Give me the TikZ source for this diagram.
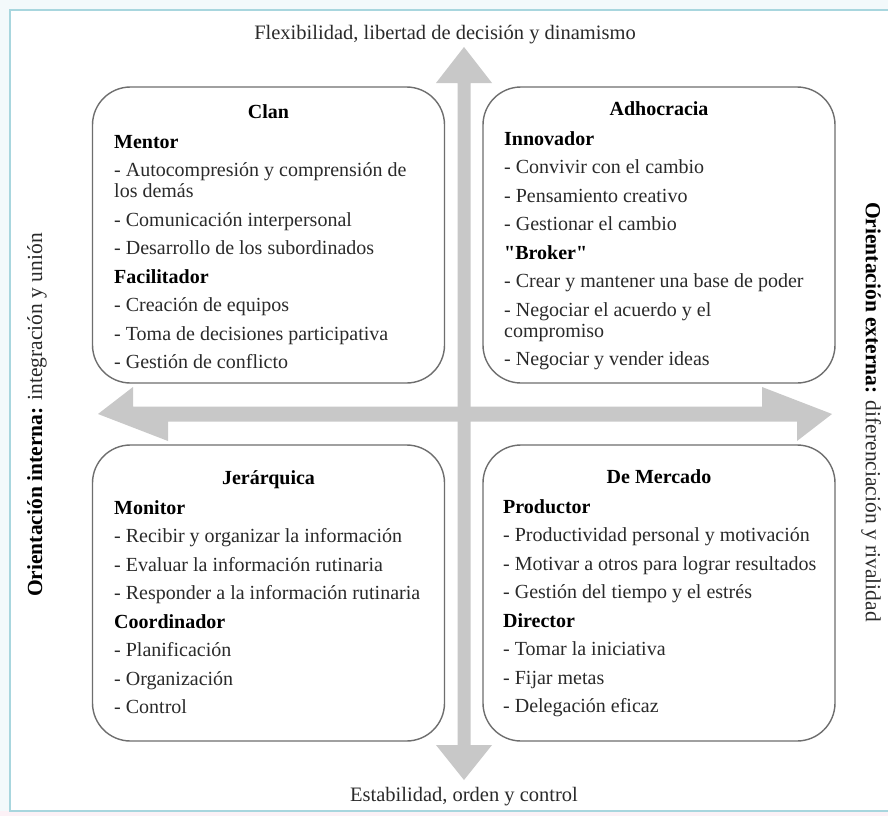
\documentclass[tikz,border=0pt]{standalone}
\usepackage{fontspec}
\setmainfont{Liberation Serif}[Ligatures=TeXOff]
\definecolor{arrowgray}{HTML}{C8C8C8}
\definecolor{boxline}{HTML}{6E6E6E}
\definecolor{txt}{HTML}{2A2A2A}
\definecolor{frameline}{HTML}{A8D6DE}
\definecolor{outerbg}{HTML}{F3F9FB}
\definecolor{pinkbg}{HTML}{FCF1F6}
\newcommand\qtext[1]{\vtop{\hsize=340pt\fontsize{20}{21}\selectfont\parindent=0pt\parskip=7.5pt\raggedright #1}}
\begin{document}
\begin{tikzpicture}[x=1pt,y=-1pt,
  qbox/.style={draw=boxline, line width=1.4pt, fill=white, rounded corners=38pt,
    minimum width=352pt, minimum height=296pt, inner sep=0pt},
  qhead/.style={anchor=base, font=\fontsize{20}{21}\selectfont\bfseries, text=black, inner sep=0pt},
  qbody/.style={anchor=base west, inner sep=0pt, text=txt},
  axislabel/.style={font=\fontsize{20.5}{22}\selectfont, text=txt, inner sep=0pt},
  sidelabel/.style={font=\fontsize{21.5}{23}\selectfont, text=txt, inner sep=0pt}]
\useasboundingbox (0,0) rectangle (888,816);
% background and frame
\fill[outerbg] (0,0) rectangle (888,816);
\fill[pinkbg] (0,811) rectangle (888,816);
\filldraw[fill=white, draw=frameline, line width=1.5pt] (10,10) rectangle (893,811);
% axes (big double arrows)
\coordinate (vt) at (464,47);
\coordinate (vb) at (464,780);
\coordinate (hl) at (98,414);
\coordinate (hr) at (832,414);
\fill[arrowgray] (vt) -- ++(28,36) -- ++(-21.5,0) -- ++(0,662) -- ++(21.5,0) -- (vb)
  -- ++(-28,-35) -- ++(21.5,0) -- ++(0,-662) -- ++(-21.5,0) -- cycle;
\fill[arrowgray] (hl) -- ++(35,-27) -- ++(0,19.5) -- ++(629,0) -- ++(0,-19.5) -- (hr)
  -- ++(-35,27) -- ++(0,-19.5) -- ++(-629,0) -- ++(0,19.5) -- cycle;
% boxes
\node[qbox] (clan) at (268.5,235) {};
\node[qbox] (adho) at (659,235) {};
\node[qbox] (jera) at (268.5,593) {};
\node[qbox] (merc) at (659,593) {};
% titles
\node[qhead] (clanH) at (268.5,118) {Clan};
\node[qhead] (adhoH) at (659,115) {Adhocracia};
\node[qhead] (jeraH) at (268.5,484) {Jerárquica};
\node[qhead] (mercH) at (659,483) {De Mercado};
% contents
\node[qbody] (clanT) at (114,148) {\qtext{\textbf{\color{black}Mentor}\par
- Autocompresión y comprensión de\newline los demás\par
- Comunicación interpersonal\par
- Desarrollo de los subordinados\par
\textbf{\color{black}Facilitador}\par
- Creación de equipos\par
- Toma de decisiones participativa\par
- Gestión de conflicto}};
\node[qbody] (adhoT) at (504,145) {\qtext{\textbf{\color{black}Innovador}\par
- Convivir con el cambio\par
- Pensamiento creativo\par
- Gestionar el cambio\par
\textbf{\color{black}"Broker"}\par
- Crear y mantener una base de poder\par
- Negociar el acuerdo y el\newline compromiso\par
- Negociar y vender ideas}};
\node[qbody] (jeraT) at (114,514) {\qtext{\textbf{\color{black}Monitor}\par
- Recibir y organizar la información\par
- Evaluar la información rutinaria\par
- Responder a la información rutinaria\par
\textbf{\color{black}Coordinador}\par
- Planificación\par
- Organización\par
- Control}};
\node[qbody] (mercT) at (503,513) {\qtext{\textbf{\color{black}Productor}\par
- Productividad personal y motivación\par
- Motivar a otros para lograr resultados\par
- Gestión del tiempo y el estrés\par
\textbf{\color{black}Director}\par
- Tomar la iniciativa\par
- Fijar metas\par
- Delegación eficaz}};
% axis labels
\node[axislabel] (flex) at (445,35) {Flexibilidad, libertad de decisión y dinamismo};
\node[axislabel] (esta) at (464,797) {Estabilidad, orden y control};
\node[sidelabel, rotate=90] (inte) at (37,415) {\textbf{\color{black}Orientación interna:} integración y unión};
\node[sidelabel, rotate=-90] (exte) at (871,412) {\textbf{\color{black}Orientación externa:} diferenciación y rivalidad};
\end{tikzpicture}
\end{document}
